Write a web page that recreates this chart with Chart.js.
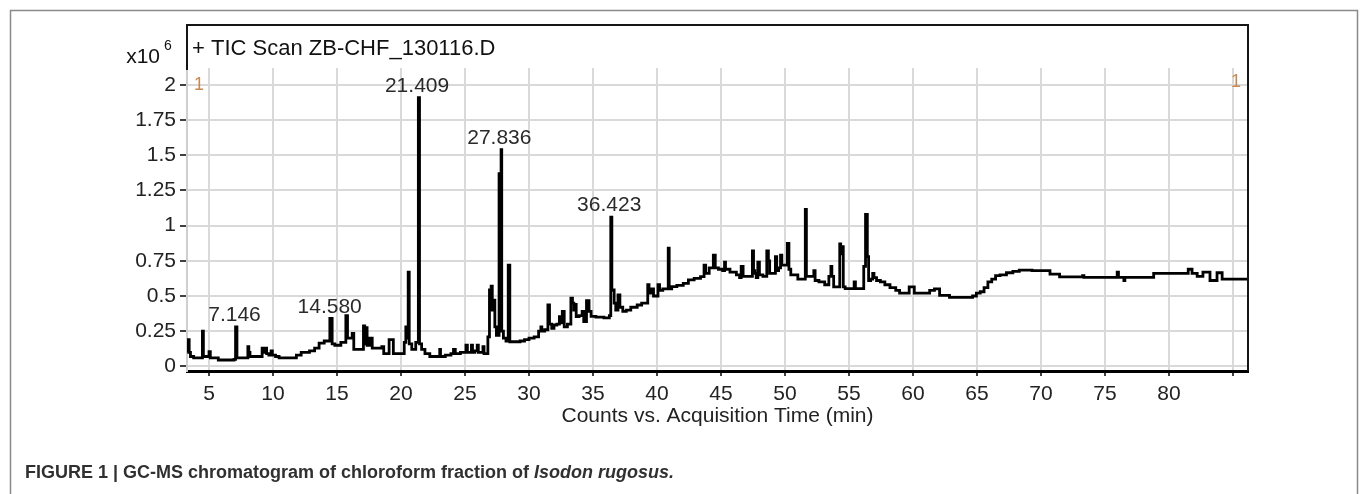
<!DOCTYPE html>
<html><head><meta charset="utf-8">
<script src="https://cdn.jsdelivr.net/npm/chart.js@4.4.1/dist/chart.umd.min.js"></script>
<style>html,body{margin:0;padding:0;background:#fff;}canvas{display:block;}</style>
</head><body>
<canvas id="c" width="1362" height="494"></canvas>
<script>
// ---- data: retention time (min) and abundance (counts x10^6) ----
const times = [
  3.30,3.40,3.50,3.60,4.00,4.45,4.52,4.60,4.95,5.05,
  5.15,5.70,5.75,6.90,7.00,7.146,7.22,8.00,8.07,8.15,
  8.25,9.10,9.20,9.30,9.45,9.55,9.80,9.90,10.00,10.40,
  10.55,11.75,11.90,12.50,12.70,13.00,13.50,13.70,14.30,14.58,
  14.66,15.00,15.60,15.78,15.86,16.10,16.27,16.35,17.00,17.13,
  17.20,17.30,17.40,17.70,17.80,18.40,18.60,18.70,19.00,19.14,
  19.35,19.45,20.20,20.30,20.45,20.52,20.60,20.68,21.00,21.30,
  21.409,21.48,21.74,22.00,22.50,23.00,23.05,23.12,23.80,24.00,
  24.20,24.28,25.00,25.15,25.22,25.45,25.55,25.62,25.90,26.00,
  26.08,26.35,26.45,26.52,26.75,26.82,27.00,27.08,27.18,27.26,
  27.40,27.50,27.62,27.70,27.80,27.836,27.90,28.10,28.30,28.45,
  28.55,29.10,29.50,29.80,30.20,30.60,30.90,30.95,31.05,31.40,
  31.55,31.65,31.90,32.00,32.35,32.40,32.50,32.70,32.80,33.20,
  33.34,33.45,33.55,33.65,33.72,34.10,34.20,34.35,34.63,34.75,
  34.95,35.50,36.20,36.35,36.423,36.52,36.60,36.70,36.85,37.05,
  37.15,37.50,37.70,38.20,38.70,38.90,39.25,39.30,39.45,39.65,
  39.80,40.05,40.10,40.30,40.60,40.85,40.90,41.00,41.30,41.80,
  42.30,42.60,43.20,43.60,43.75,43.85,44.30,44.50,44.60,45.00,
  45.25,45.30,45.40,46.00,46.40,46.50,46.65,46.80,47.40,47.50,
  47.58,47.70,47.80,47.95,48.05,48.50,48.65,48.75,48.85,49.20,
  49.30,49.40,49.60,49.70,49.80,50.10,50.26,50.35,50.55,50.90,
  51.10,51.55,51.62,51.72,52.20,52.30,52.40,52.90,53.30,53.55,
  53.62,53.70,53.90,54.25,54.30,54.40,54.50,54.60,54.80,55.35,
  55.45,55.55,56.10,56.20,56.38,56.48,56.58,56.80,56.90,57.00,
  57.30,57.60,58.00,58.40,58.90,59.00,59.50,59.90,60.30,61.10,
  61.50,61.85,62.30,63.40,64.50,64.80,65.10,65.40,65.70,66.00,
  66.30,66.60,67.00,67.60,68.00,68.60,70.00,70.50,70.90,72.00,
  73.20,73.30,73.40,75.90,76.00,76.10,76.45,76.50,76.60,78.50,
  79.10,81.40,81.60,82.00,82.40,82.90,83.50,84.00,84.30,86.20
];
const counts = [
  0.10,0.19,0.10,0.07,0.06,0.06,0.25,0.07,0.07,0.105,
  0.06,0.06,0.045,0.045,0.05,0.28,0.06,0.06,0.14,0.10,
  0.07,0.07,0.13,0.10,0.13,0.09,0.08,0.11,0.08,0.07,
  0.06,0.06,0.08,0.10,0.10,0.11,0.13,0.165,0.18,0.34,
  0.16,0.15,0.17,0.36,0.20,0.20,0.235,0.12,0.12,0.287,
  0.16,0.275,0.15,0.20,0.13,0.13,0.14,0.09,0.09,0.19,
  0.19,0.09,0.09,0.17,0.28,0.20,0.67,0.16,0.12,0.17,
  1.91,0.16,0.12,0.09,0.07,0.07,0.12,0.07,0.08,0.09,
  0.12,0.09,0.10,0.15,0.10,0.10,0.15,0.10,0.11,0.15,
  0.10,0.10,0.14,0.09,0.09,0.21,0.543,0.57,0.40,0.47,
  0.28,0.22,0.22,1.37,1.37,1.54,0.25,0.20,0.18,0.72,
  0.175,0.175,0.18,0.19,0.20,0.21,0.25,0.28,0.25,0.26,
  0.436,0.30,0.27,0.294,0.30,0.353,0.31,0.39,0.28,0.30,
  0.484,0.45,0.40,0.44,0.353,0.36,0.39,0.318,0.467,0.39,
  0.355,0.35,0.345,0.36,1.06,0.54,0.543,0.45,0.40,0.507,
  0.42,0.39,0.40,0.42,0.436,0.45,0.45,0.58,0.52,0.55,
  0.50,0.50,0.58,0.54,0.55,0.55,0.84,0.55,0.567,0.575,
  0.59,0.614,0.625,0.637,0.72,0.66,0.70,0.79,0.70,0.69,
  0.68,0.74,0.69,0.67,0.65,0.63,0.71,0.64,0.64,0.82,
  0.68,0.66,0.63,0.74,0.65,0.64,0.82,0.75,0.66,0.66,
  0.78,0.68,0.70,0.79,0.72,0.72,0.874,0.69,0.65,0.65,
  0.62,0.62,1.116,0.64,0.64,0.68,0.61,0.60,0.58,0.64,
  0.71,0.64,0.565,0.565,0.87,0.80,0.85,0.565,0.553,0.553,
  0.60,0.553,0.553,0.71,1.08,0.78,0.61,0.62,0.66,0.63,
  0.61,0.60,0.58,0.56,0.54,0.52,0.52,0.565,0.52,0.52,
  0.54,0.55,0.505,0.49,0.49,0.50,0.52,0.53,0.56,0.60,
  0.62,0.645,0.65,0.665,0.675,0.684,0.68,0.68,0.655,0.636,
  0.636,0.645,0.632,0.632,0.67,0.632,0.632,0.61,0.632,0.632,
  0.66,0.66,0.69,0.66,0.64,0.67,0.61,0.665,0.62,0.62
];
const peakTimes = [7.146, 14.58, 21.409, 27.836, 36.423];
const peakLabels = ['7.146', '14.580', '21.409', '27.836', '36.423'];
const xTickValues = [5,10,15,20,25,30,35,40,45,50,55,60,65,70,75,80,85];
const xTickLabels = ['5','10','15','20','25','30','35','40','45','50','55','60','65','70','75','80',''];
const yTickValues = [0,0.25,0.5,0.75,1,1.25,1.5,1.75,2];
const yTickLabels = ['0','0.25','0.5','0.75','1','1.25','1.5','1.75','2'];
const chartTitle = '+ TIC Scan ZB-CHF_130116.D';
const xAxisTitle = 'Counts vs. Acquisition Time (min)';
const yScaleBase = 'x10';
const yScaleExp = '6';
const captionMain = 'FIGURE 1 | GC-MS chromatogram of chloroform fraction of ';
const captionItalic = 'Isodon rugosus.';

const FONT = "'Liberation Sans', Arial, sans-serif";

const decor = {
  id: 'decor',
  beforeDraw(chart) {
    const ctx = chart.ctx;
    ctx.save(); ctx.fillStyle = '#fff'; ctx.fillRect(0, 0, chart.width, chart.height); ctx.restore();
  },
  afterDraw(chart) {
    const {ctx, chartArea: a, scales: {x, y}} = chart;
    ctx.save();
    // outer figure frame
    ctx.strokeStyle = '#8a8a8a'; ctx.lineWidth = 1.5;
    ctx.beginPath(); ctx.moveTo(10.5, 500); ctx.lineTo(10.5, 10.5); ctx.lineTo(1357.5, 10.5); ctx.lineTo(1357.5, 500); ctx.stroke();
    // header box + right border
    const boxTop = 25;
    ctx.strokeStyle = '#151515'; ctx.lineWidth = 2;
    ctx.beginPath(); ctx.moveTo(a.left, a.top + 2); ctx.lineTo(a.left, boxTop); ctx.lineTo(a.right, boxTop); ctx.lineTo(a.right, a.bottom); ctx.stroke();
    // title
    ctx.fillStyle = '#111'; ctx.textBaseline = 'alphabetic'; ctx.textAlign = 'left';
    ctx.font = '22px ' + FONT;
    ctx.fillText(chartTitle, a.left + 5, 55);
    // y multiplier
    ctx.textAlign = 'right';
    ctx.font = '21px ' + FONT;
    ctx.fillText(yScaleBase, 160, 63);
    ctx.textAlign = 'left';
    ctx.font = '14px ' + FONT;
    ctx.fillText(yScaleExp, 164, 50);
    // "1" markers
    ctx.fillStyle = '#c58a52'; ctx.font = '18px ' + FONT; ctx.textBaseline = 'middle';
    ctx.fillText('1', a.left + 7, y.getPixelForValue(2));
    ctx.fillText('1', a.right - 17, y.getPixelForValue(2) - 3);
    // peak labels
    ctx.fillStyle = '#2a2a2a'; ctx.font = '21px ' + FONT; ctx.textAlign = 'center'; ctx.textBaseline = 'alphabetic';
    peakTimes.forEach((t, i) => {
      const idx = times.indexOf(t);
      const px = x.getPixelForValue(t);
      const py = y.getPixelForValue(counts[idx]);
      ctx.fillText(peakLabels[i], px - 2, py - 6);
    });
    // caption
    ctx.textAlign = 'left'; ctx.fillStyle = '#303030';
    ctx.font = 'bold 18px ' + FONT;
    ctx.fillText(captionMain, 25, 478);
    const w = ctx.measureText(captionMain).width;
    ctx.font = 'italic bold 18px ' + FONT;
    ctx.fillText(captionItalic, 25 + w, 478);
    ctx.restore();
  }
};

new Chart(document.getElementById('c'), {
  type: 'line',
  data: {
    datasets: [{
      data: times.map((t, i) => ({x: t, y: counts[i]})),
      borderColor: '#000', borderWidth: 2.8, pointRadius: 0, tension: 0,
      stepped: 'middle', borderJoinStyle: 'miter', fill: false
    }]
  },
  options: {
    responsive: false, animation: false, devicePixelRatio: 1,
    layout: {padding: {top: 68, right: 114, left: 0, bottom: 0}},
    plugins: {legend: {display: false}, tooltip: {enabled: false}},
    scales: {
      x: {
        type: 'linear', min: 3.28, max: 86.17,
        afterFit: s => { s.height = 123; },
        afterBuildTicks: s => { s.ticks = xTickValues.map(v => ({value: v})); },
        ticks: {
          autoSkip: false, maxRotation: 0, padding: 6, color: '#222',
          font: {family: FONT, size: 21},
          callback: (v) => { const i = xTickValues.indexOf(v); return i >= 0 ? xTickLabels[i] : ''; }
        },
        grid: {color: '#d9d9d9', lineWidth: 2, tickLength: 5, tickColor: '#000', tickWidth: 1.5},
        border: {color: '#000', width: 3},
        title: {display: true, text: xAxisTitle, color: '#222', font: {family: FONT, size: 21}, padding: {top: 0, bottom: 65}}
      },
      y: {
        type: 'linear', min: -0.033, max: 2.12,
        afterFit: s => { s.width = 187; },
        afterBuildTicks: s => { s.ticks = yTickValues.map(v => ({value: v})); },
        ticks: {
          autoSkip: false, padding: 4, color: '#222',
          font: {family: FONT, size: 21},
          callback: (v) => { const i = yTickValues.indexOf(v); return i >= 0 ? yTickLabels[i] : ''; }
        },
        grid: {color: '#d9d9d9', lineWidth: 2, tickLength: 7, tickColor: '#000', tickWidth: 1.5},
        border: {color: '#cfcfcf', width: 2}
      }
    }
  },
  plugins: [decor]
});
</script>
</body></html>
